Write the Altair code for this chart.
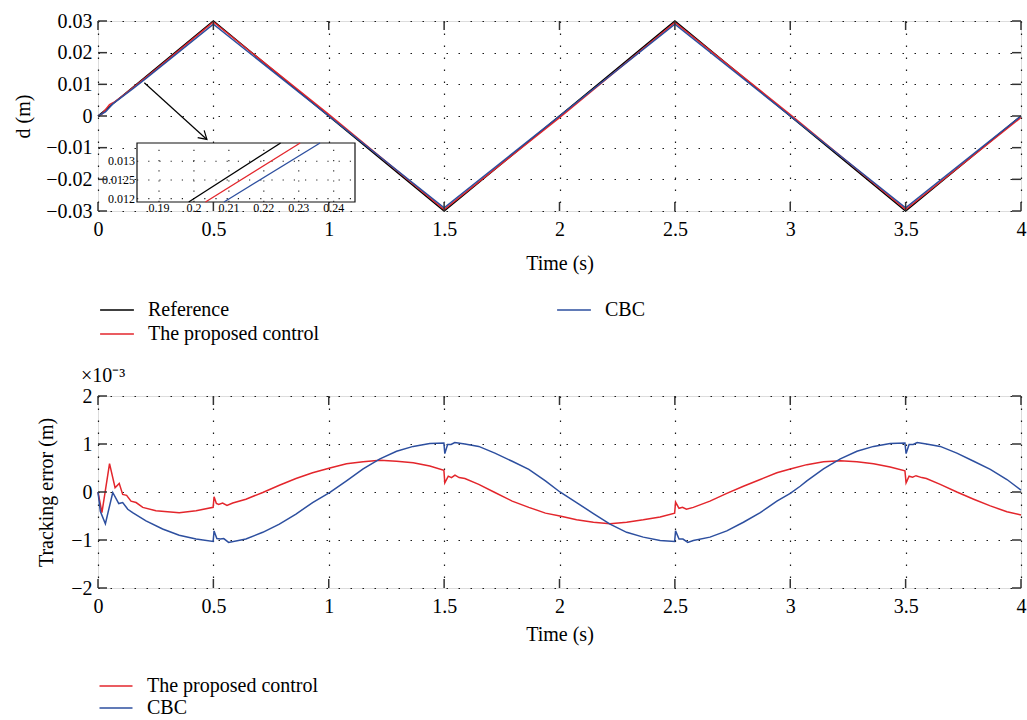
import altair as alt
import pandas as pd

FONT = "Liberation Serif"
RED = "#e3262c"
BLUE = "#2d4f9f"
BLACK = "#000000"

# ---------------- top panel: d (m) ----------------
ref_t = [0.0, 0.5, 1.5, 2.5, 3.5, 4.0]
ref_d = [0.0, 0.03, -0.03, 0.03, -0.03, 0.0]

prop_t = [0.0, 0.017, 0.05, 0.074, 0.107, 0.2, 0.25, 0.5, 1.0, 1.5, 2.0, 2.5, 3.0, 3.5, 4.0]
prop_d = [0.0, 0.00059, 0.00359, 0.00453, 0.00637, 0.0117, 0.01466, 0.02968, 0.0005,
          -0.02955, -0.0005, 0.02956, 0.00048, -0.02956, -0.00048]

cbc_t = [0.0, 0.032, 0.064, 0.15, 0.2, 0.25, 0.5, 1.0, 1.5, 2.0, 2.5, 3.0, 3.5, 4.0]
cbc_d = [0.0, 0.00126, 0.00383, 0.00857, 0.0114, 0.01431, 0.02897, 0.0, -0.02898,
         0.0, 0.02897, 0.0, -0.02898, 0.0]

# zoomed inset window
inset_t_range = [0.1837, 0.2461]
inset_d_range = [0.01191, 0.01349]
inset_ref_t = [0.1985, 0.2248]
inset_prop_t = [0.2033, 0.2304]
inset_cbc_t = [0.2086, 0.2361]
inset_x_ticks = [0.19, 0.2, 0.21, 0.22, 0.23, 0.24]
inset_x_labels = ["0.19", "0.2", "0.21", "0.22", "0.23", "0.24"]
inset_y_ticks = [0.012, 0.0125, 0.013]
inset_y_labels = ["0.012", "0.0125", "0.013"]

arrow_t = [0.2007, 0.472]
arrow_d = [0.0105, -0.0074]

# ---------------- bottom panel: tracking error (x1e-3 m) ----------------
err_prop_t = [0.0, 0.017, 0.05, 0.074, 0.092, 0.107, 0.124, 0.143, 0.165, 0.194, 0.251, 0.352,
              0.425, 0.499, 0.503, 0.513, 0.523, 0.54, 0.559, 0.584, 0.641, 0.714, 0.786, 0.858,
              0.93, 1.005, 1.077, 1.149, 1.222, 1.294, 1.366, 1.438, 1.499, 1.503, 1.518, 1.532,
              1.547, 1.565, 1.59, 1.65, 1.72, 1.795, 1.867, 1.939, 2.002, 2.074, 2.147, 2.219,
              2.291, 2.363, 2.436, 2.499, 2.503, 2.518, 2.533, 2.55, 2.58, 2.652, 2.725, 2.797,
              2.87, 2.942, 3.0, 3.072, 3.144, 3.217, 3.289, 3.361, 3.433, 3.497, 3.502, 3.515,
              3.53, 3.545, 3.57, 3.59, 3.65, 3.722, 3.795, 3.867, 3.939, 4.0]
err_prop = [0.0, -0.43, 0.59, 0.09, 0.18, -0.05, -0.07, -0.19, -0.22, -0.32, -0.39, -0.43,
            -0.39, -0.32, -0.10, -0.24, -0.26, -0.23, -0.28, -0.23, -0.15, -0.01, 0.14, 0.28,
            0.40, 0.50, 0.59, 0.63, 0.66, 0.64, 0.61, 0.54, 0.45, 0.19, 0.33, 0.30,
            0.35, 0.30, 0.28, 0.16, -0.01, -0.19, -0.32, -0.44, -0.50, -0.58, -0.63, -0.66,
            -0.63, -0.58, -0.52, -0.44, -0.21, -0.34, -0.32, -0.36, -0.32, -0.19, -0.03, 0.12,
            0.26, 0.40, 0.48, 0.57, 0.63, 0.65, 0.63, 0.59, 0.52, 0.44, 0.19, 0.33,
            0.31, 0.34, 0.30, 0.28, 0.16, 0.0, -0.15, -0.29, -0.41, -0.48]

err_cbc_t = [0.0, 0.01, 0.032, 0.064, 0.09, 0.107, 0.129, 0.15, 0.208, 0.28, 0.352, 0.425,
             0.499, 0.503, 0.515, 0.53, 0.545, 0.566, 0.641, 0.714, 0.786, 0.858, 0.93, 1.005,
             1.077, 1.149, 1.222, 1.294, 1.366, 1.438, 1.499, 1.503, 1.515, 1.53, 1.546, 1.59,
             1.65, 1.72, 1.795, 1.867, 1.939, 2.002, 2.074, 2.147, 2.219, 2.291, 2.363, 2.436,
             2.499, 2.503, 2.518, 2.535, 2.556, 2.58, 2.652, 2.725, 2.797, 2.87, 2.942, 3.0,
             3.043, 3.072, 3.144, 3.217, 3.289, 3.361, 3.433, 3.497, 3.502, 3.515, 3.533, 3.55,
             3.59, 3.65, 3.722, 3.795, 3.867, 3.939, 4.0]
err_cbc = [0.0, -0.40, -0.66, -0.01, -0.24, -0.22, -0.36, -0.43, -0.60, -0.77, -0.90, -0.98,
           -1.03, -0.81, -0.97, -0.98, -0.97, -1.05, -0.98, -0.84, -0.67, -0.46, -0.22, -0.01,
           0.23, 0.48, 0.69, 0.85, 0.95, 1.01, 1.02, 0.80, 0.99, 0.99, 1.03, 1.00,
           0.95, 0.81, 0.64, 0.47, 0.23, 0.0, -0.22, -0.45, -0.67, -0.84, -0.94, -1.01,
           -1.03, -0.81, -0.98, -0.98, -1.05, -1.01, -0.94, -0.81, -0.63, -0.43, -0.19, -0.03,
           0.12, 0.23, 0.48, 0.69, 0.85, 0.95, 1.01, 1.02, 0.80, 0.99, 0.99, 1.03,
           1.00, 0.95, 0.81, 0.64, 0.47, 0.26, 0.04]

time_ticks = [0, 0.5, 1, 1.5, 2, 2.5, 3, 3.5, 4]
top_y_ticks = [-0.03, -0.02, -0.01, 0, 0.01, 0.02, 0.03]
bot_y_ticks = [-2, -1, 0, 1, 2]

SER_TOP = ["Reference", "The proposed control", "CBC"]
COL_TOP = [BLACK, RED, BLUE]
SER_BOT = ["The proposed control", "CBC"]
COL_BOT = [RED, BLUE]

# ---------------- layout constants ----------------
W, H1, H2 = 923, 190, 192
TICK = 9
TICK_COLOR = "#333333"

xs = alt.Scale(domain=[0, 4], nice=False, zero=False)
ys1 = alt.Scale(domain=[-0.03, 0.03], nice=False, zero=False)
ys2 = alt.Scale(domain=[-2, 2], nice=False, zero=False)
ixs = alt.Scale(domain=inset_t_range, range=[39, 257], nice=False, zero=False)
iys = alt.Scale(domain=inset_d_range, range=[181, 122], nice=False, zero=False)

common = dict(ticks=False, domain=False, labelFont=FONT, labelFontSize=20, labelColor="#000",
              titleFont=FONT, titleFontSize=20, titleFontWeight="normal", titleColor="#000",
              labelFlush=False, labelOverlap=False, format="~g",
              grid=True, gridDash=[1.5, 10.5], gridColor="#1a1a1a", gridWidth=1.2, gridOpacity=1)

x_axis1 = alt.Axis(values=time_ticks, title="Time (s)", titleY=52, titleBaseline="middle",
                   labelPadding=8, **common)
y_axis1 = alt.Axis(values=top_y_ticks, title="d (m)", titleX=-75, titleBaseline="middle",
                   labelPadding=6, **common)
x_axis2 = alt.Axis(values=time_ticks, title="Time (s)", titleY=46, titleBaseline="middle",
                   labelPadding=8, **common)
y_axis2 = alt.Axis(values=bot_y_ticks, title="Tracking error (m)", titleX=-52,
                   titleBaseline="middle", labelPadding=6, **common)

leg_top = alt.Legend(title=None, orient="none", legendX=5, legendY=275, columns=2,
                     columnPadding=234, rowPadding=0, padding=0,
                     symbolType="M-1.3,0H1.3", symbolSize=676, symbolStrokeWidth=1.5,
                     labelFont=FONT, labelFontSize=20, labelColor="#000", labelOffset=17,
                     labelLimit=400)
leg_bot = alt.Legend(title=None, orient="none", legendX=6, legendY=278, rowPadding=0, padding=0,
                     symbolType="M-1.5,0H1.5", symbolSize=484, symbolStrokeWidth=1.5,
                     labelFont=FONT, labelFontSize=20, labelColor="#000", labelOffset=19,
                     labelLimit=400)

c_top = alt.Scale(domain=SER_TOP, range=COL_TOP)
c_bot = alt.Scale(domain=SER_BOT, range=COL_BOT)


def series_df(t, v, name):
    return pd.DataFrame({"t": t, "v": v, "series": name})


def top_line(df):
    return alt.Chart(df).mark_line(strokeWidth=1.5).encode(
        x=alt.X("t:Q", scale=xs, axis=x_axis1),
        y=alt.Y("v:Q", scale=ys1, axis=y_axis1),
        color=alt.Color("series:N", scale=c_top, legend=leg_top),
    )


def bot_line(df):
    return alt.Chart(df).mark_line(strokeWidth=1.5).encode(
        x=alt.X("t:Q", scale=xs, axis=x_axis2),
        y=alt.Y("v:Q", scale=ys2, axis=y_axis2),
        color=alt.Color("series:N", scale=c_bot, legend=leg_bot),
    )


def frame_ticks(y_ticks, y_scale, h):
    xt = pd.DataFrame({"v": time_ticks})
    yt = pd.DataFrame({"v": y_ticks})
    rule = dict(color=TICK_COLOR, strokeWidth=1.5)
    xb = alt.Chart(xt).mark_rule(**rule).encode(
        x=alt.X("v:Q", scale=xs, axis=None), y=alt.value(h), y2=alt.value(h - TICK))
    xtp = alt.Chart(xt).mark_rule(**rule).encode(
        x=alt.X("v:Q", scale=xs, axis=None), y=alt.value(0), y2=alt.value(TICK))
    yl = alt.Chart(yt).mark_rule(**rule).encode(
        y=alt.Y("v:Q", scale=y_scale, axis=None), x=alt.value(0), x2=alt.value(TICK))
    yr = alt.Chart(yt).mark_rule(**rule).encode(
        y=alt.Y("v:Q", scale=y_scale, axis=None), x=alt.value(W), x2=alt.value(W - TICK))
    return [xb, xtp, yl, yr]


# ---------------- top chart ----------------
main_top = alt.layer(
    top_line(series_df(ref_t, ref_d, "Reference")),
    top_line(series_df(prop_t, prop_d, "The proposed control")),
    top_line(series_df(cbc_t, cbc_d, "CBC")),
)

box_df = pd.DataFrame({"x0": [inset_t_range[0]], "x1": [inset_t_range[1]],
                       "y0": [inset_d_range[0]], "y1": [inset_d_range[1]]})
inset_box = alt.Chart(box_df).mark_rect(fill="white", stroke="#111", strokeWidth=1.2).encode(
    x=alt.X("x0:Q", scale=ixs, axis=None), x2="x1",
    y=alt.Y("y0:Q", scale=iys, axis=None), y2="y1")

igx_df = pd.DataFrame({"v": inset_x_ticks, "lo": inset_d_range[0], "hi": inset_d_range[1],
                       "lab": inset_x_labels})
igy_df = pd.DataFrame({"v": inset_y_ticks, "lo": inset_t_range[0], "hi": inset_t_range[1],
                       "lab": inset_y_labels})
inset_gx = alt.Chart(igx_df).mark_rule(color="#222", strokeWidth=1.1, strokeDash=[1.2, 9]).encode(
    x=alt.X("v:Q", scale=ixs, axis=None),
    y=alt.Y("lo:Q", scale=iys, axis=None), y2="hi")
inset_gy = alt.Chart(igy_df).mark_rule(color="#222", strokeWidth=1.1, strokeDash=[1.2, 10]).encode(
    y=alt.Y("v:Q", scale=iys, axis=None),
    x=alt.X("lo:Q", scale=ixs, axis=None), x2="hi")
inset_xl = alt.Chart(igx_df).mark_text(font=FONT, fontSize=12, align="center", baseline="middle",
                                       color="#000").encode(
    x=alt.X("v:Q", scale=ixs, axis=None), y=alt.value(187), text="lab:N")
inset_yl = alt.Chart(igy_df).mark_text(font=FONT, fontSize=12, align="right", baseline="middle",
                                       color="#000").encode(
    y=alt.Y("v:Q", scale=iys, axis=None), x=alt.value(37), text="lab:N")


def inset_line(t, name):
    df = series_df(t, inset_d_range, name)
    return alt.Chart(df).mark_line(strokeWidth=1.3).encode(
        x=alt.X("t:Q", scale=ixs, axis=None),
        y=alt.Y("v:Q", scale=iys, axis=None),
        color=alt.Color("series:N", scale=c_top, legend=leg_top),
    )


inset = alt.layer(inset_box, inset_gx, inset_gy,
                  inset_line(inset_ref_t, "Reference"),
                  inset_line(inset_prop_t, "The proposed control"),
                  inset_line(inset_cbc_t, "CBC"),
                  inset_xl, inset_yl)

arrow_df = pd.DataFrame({"t": arrow_t, "v": arrow_d})
arrow_line = alt.Chart(arrow_df).mark_line(color="#000", strokeWidth=1.2).encode(
    x=alt.X("t:Q", scale=xs, axis=None), y=alt.Y("v:Q", scale=ys1, axis=None))
arrow_head = alt.Chart(arrow_df.iloc[[1]]).mark_point(
    shape="M-1,-0.6L0,0L-1,0.6", angle=42, size=260, filled=False, color="#000",
    strokeWidth=1.2, opacity=1).encode(
    x=alt.X("t:Q", scale=xs, axis=None), y=alt.Y("v:Q", scale=ys1, axis=None))

overlay_top = alt.layer(*frame_ticks(top_y_ticks, ys1, H1), arrow_line, arrow_head)

top = alt.layer(main_top, inset, overlay_top).resolve_scale(
    x="independent", y="independent").properties(width=W, height=H1)

# ---------------- bottom chart ----------------
main_bot = alt.layer(
    bot_line(series_df(err_prop_t, err_prop, "The proposed control")),
    bot_line(series_df(err_cbc_t, err_cbc, "CBC")),
)
overlay_bot = alt.layer(*frame_ticks(bot_y_ticks, ys2, H2))

bottom = alt.layer(main_bot, overlay_bot).resolve_scale(
    x="independent", y="independent").properties(
    width=W, height=H2,
    title=alt.TitleParams(text="×10⁻³", anchor="start", frame="group", dx=-17, offset=0,
                          font=FONT, fontSize=20, fontWeight="normal", color="#000"))

chart = alt.vconcat(top, bottom, spacing=185, bounds="flush").resolve_scale(
    color="independent").resolve_legend(color="independent").properties(
    padding={"left": 12, "top": 10, "right": 0, "bottom": 0}
).configure_view(stroke="#3a3a3a", strokeWidth=1.3).configure(font=FONT)

chart.save("out.html", embed_options={"renderer": "svg", "actions": False})
